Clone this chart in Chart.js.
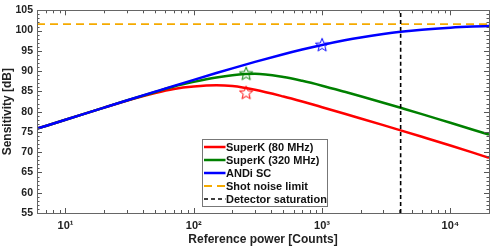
<!DOCTYPE html>
<html>
<head>
<meta charset="utf-8">
<script src="https://cdn.jsdelivr.net/npm/chart.js@4.4.1/dist/chart.umd.min.js"></script>
<style>
	html, body { margin: 0; padding: 0; background: #fff; }
	#wrap { width: 498px; height: 249px; }
</style>
</head>
<body>
<div id="wrap"><canvas id="sens"></canvas></div>
<script>
// datos
const power = [6, 10, 20, 30, 50, 70, 100, 150, 200, 300, 500, 700, 1000, 1500, 2000, 3000, 4096, 6000, 10000, 15000, 20000];
const andiSC = [75.8, 78.0, 81.0, 82.75, 84.93, 86.36, 87.85, 89.52, 90.68, 92.27, 94.16, 95.32, 96.45, 97.6, 98.31, 99.15, 99.69, 100.21, 100.71, 100.99, 101.13];
const superK80 = [75.8, 78.0, 81.0, 82.7, 84.6, 85.6, 86.2, 86.5, 86.3, 85.4, 83.74, 82.5, 81.1, 79.48, 78.32, 76.67, 75.39, 73.8, 71.65, 69.89, 68.6];
const superK320 = [75.8, 78.0, 81.0, 82.75, 84.85, 86.2, 87.35, 88.45, 89.0, 89.35, 88.55, 87.6, 86.4, 84.9, 83.8, 82.2, 80.95, 79.4, 77.25, 75.55, 74.35];
const shotNoise = 101.6;
const saturation = 4096;

// estrellas (punto de operacion)
const star80 = [256, 84.7];
const star320 = [256, 89.4];
const starAndi = [1000, 96.5];

const xRange = [6, 20000];
const yRange = [55, 105];
const xMajor = [10, 100, 1000, 10000];
const supers = {10: '10\u00B9', 100: '10\u00B2', 1000: '10\u00B3', 10000: '10\u2074'};

const fontFam = "'Liberation Sans', Arial, sans-serif";

// marcador estrella de 5 puntas
function makeStar(color){
	const c = document.createElement('canvas');
	c.width = 16; c.height = 16;
	const g = c.getContext('2d');
	g.beginPath();
	for(let i = 0; i < 10; i++){
		const r = (i % 2 == 0) ? 7 : 3;
		const a = -Math.PI / 2 + i * Math.PI / 5;
		const px = 8 + r * Math.cos(a), py = 8.5 + r * Math.sin(a);
		i == 0 ? g.moveTo(px, py) : g.lineTo(px, py);
	}
	g.closePath();
	g.strokeStyle = color;
	g.lineWidth = 1;
	g.stroke();
	return c;
}

const pts = (ys) => power.map((p, i) => ({x: p, y: ys[i]}));

// ticks hacia adentro y marco
const frameTicks = {
	id: 'frameTicks',
	afterDatasetsDraw(chart){
		const {ctx, chartArea: a, scales: {x, y}} = chart;
		ctx.save();
		ctx.strokeStyle = '#555';
		ctx.lineWidth = 1;
		ctx.beginPath();
		for(let d = 0; d <= 4; d++){
			for(let m = 1; m <= 9; m++){
				const v = m * Math.pow(10, d);
				if(v < xRange[0] || v > xRange[1]) continue;
				const px = Math.round(x.getPixelForValue(v)) + 0.5;
				const len = (m == 1) ? 5 : 3;
				ctx.moveTo(px, a.bottom); ctx.lineTo(px, a.bottom - len);
				ctx.moveTo(px, a.top); ctx.lineTo(px, a.top + len);
			}
		}
		for(let v = yRange[0]; v <= yRange[1]; v++){
			const py = Math.round(y.getPixelForValue(v)) + 0.5;
			const len = (v % 5 == 0) ? 5 : 2.5;
			ctx.moveTo(a.left, py); ctx.lineTo(a.left + len, py);
			ctx.moveTo(a.right, py); ctx.lineTo(a.right - len, py);
		}
		ctx.stroke();
		ctx.strokeStyle = '#666';
		ctx.strokeRect(Math.round(a.left) + 0.5, Math.round(a.top) + 0.5, Math.round(a.right - a.left), Math.round(a.bottom - a.top));
		ctx.restore();
	}
};

// leyenda dentro del area del grafico
const boxLegend = {
	id: 'boxLegend',
	afterDraw(chart){
		const ctx = chart.ctx;
		const items = chart.data.datasets.filter(d => d.inLegend);
		const bx = 202.5, by = 139.5, bw = 125, bh = 67;
		ctx.save();
		ctx.fillStyle = '#fff';
		ctx.fillRect(bx, by, bw, bh);
		ctx.strokeStyle = '#777';
		ctx.lineWidth = 1;
		ctx.strokeRect(bx, by, bw, bh);
		ctx.font = 'bold 11px ' + fontFam;
		ctx.textBaseline = 'middle';
		items.forEach((d, i) => {
			const cy = by + 7.5 + i * 13;
			ctx.strokeStyle = d.borderColor;
			ctx.lineWidth = d.borderWidth;
			ctx.setLineDash(d.borderDash || []);
			ctx.beginPath();
			ctx.moveTo(bx + 1.5, cy); ctx.lineTo(bx + 23, cy);
			ctx.stroke();
			ctx.setLineDash([]);
			ctx.fillStyle = '#111';
			ctx.fillText(d.label, bx + 23.5, cy + 0.5);
		});
		ctx.restore();
	}
};

new Chart(document.getElementById('sens'), {
	type: 'line',
	data: {
		datasets: [
			{label: 'SuperK (80 MHz)', data: pts(superK80), borderColor: '#ff0000', borderWidth: 2.5, inLegend: true, order: 3},
			{label: 'SuperK (320 MHz)', data: pts(superK320), borderColor: '#008000', borderWidth: 2.5, inLegend: true, order: 2},
			{label: 'ANDi SC', data: pts(andiSC), borderColor: '#0000ff', borderWidth: 2.5, inLegend: true, order: 1},
			{label: 'Shot noise limit', data: [{x: xRange[0], y: shotNoise}, {x: xRange[1], y: shotNoise}], borderColor: '#f5aa00', borderWidth: 1.8, borderDash: [8, 5], inLegend: true, order: 5},
			{label: 'Detector saturation', data: [{x: saturation, y: yRange[0]}, {x: saturation, y: yRange[1]}], borderColor: '#000', borderWidth: 1.6, borderDash: [4, 3], inLegend: true, order: 0},
			{label: 's80', data: [{x: star80[0], y: star80[1]}], showLine: false, pointStyle: makeStar('#ff0000'), pointRadius: 8, order: -1},
			{label: 's320', data: [{x: star320[0], y: star320[1]}], showLine: false, pointStyle: makeStar('#008000'), pointRadius: 8, order: -1},
			{label: 'sandi', data: [{x: starAndi[0], y: starAndi[1]}], showLine: false, pointStyle: makeStar('#0000ff'), pointRadius: 8, order: -1}
		]
	},
	options: {
		responsive: true,
		maintainAspectRatio: false,
		animation: false,
		events: [],
		layout: {padding: {left: 0, right: 4, top: 6, bottom: 0}},
		elements: {
			line: {cubicInterpolationMode: 'monotone', fill: false},
			point: {radius: 0}
		},
		plugins: {legend: {display: false}, tooltip: {enabled: false}},
		scales: {
			x: {
				type: 'logarithmic',
				min: xRange[0],
				max: xRange[1],
				afterBuildTicks: (s) => { s.ticks = xMajor.map(v => ({value: v, major: true})); },
				afterFit: (s) => { s.height = 36; },
				grid: {display: false, drawTicks: false},
				border: {display: false},
				ticks: {
					autoSkip: false,
					maxRotation: 0,
					padding: 6,
					color: '#222',
					font: {family: fontFam, size: 11, weight: 'bold'},
					callback: (v) => supers[v] || ''
				},
				title: {display: true, text: 'Reference power [Counts]', color: '#222', padding: {top: 0, bottom: 2}, font: {family: fontFam, size: 12, weight: 'bold'}}
			},
			y: {
				min: yRange[0],
				max: yRange[1],
				afterFit: (s) => { s.width = 37; },
				grid: {display: false, drawTicks: false},
				border: {display: false},
				ticks: {stepSize: 5, padding: 4, color: '#222', font: {family: fontFam, size: 10.5, weight: 'bold'}},
				title: {display: true, text: 'Sensitivity [dB]', color: '#222', padding: {top: 0, bottom: 0}, font: {family: fontFam, size: 12, weight: 'bold'}}
			}
		}
	},
	plugins: [frameTicks, boxLegend]
});
</script>
</body>
</html>
